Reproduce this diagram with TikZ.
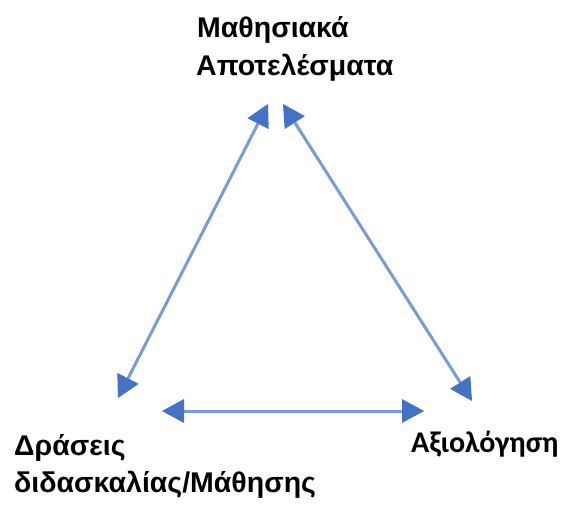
\documentclass[tikz,border=0pt]{standalone}
\usepackage{fontspec}
\setmainfont{Liberation Sans}
\newfontfamily\calfont{Carlito}
\usetikzlibrary{arrows.meta}
\definecolor{lineblue}{RGB}{120,156,214}
\definecolor{tipblue}{RGB}{68,114,196}
\begin{document}
\begin{tikzpicture}[x=1pt, y=-1pt,
    label/.style={inner sep=0pt, anchor=base west, font=\bfseries\fontsize{28.5}{32}\selectfont},
    link/.style={draw=lineblue, line width=3pt, {Triangle[length=22pt, width=24pt, fill=tipblue, line width=0pt]}-{Triangle[length=22pt, width=24pt, fill=tipblue, line width=0pt]}}
    ]
    \useasboundingbox (0,0) rectangle (571,509);
    \node [label] (outcomes1) at (197,37) {Μαθησιακά};
    \node [label] (outcomes2) at (196,75) {Αποτελέσματα};
    \node [label] (actions1) at (14,455) {Δράσεις};
    \node [label] (actions2) at (14,492) {διδασκαλίας/Μάθησης};
    \node [label, font=\calfont\bfseries\fontsize{30}{34}\selectfont] (assess) at (411,452) {Αξιολόγηση};

    \coordinate (topl) at (268,104);
    \coordinate (topr) at (283,104);
    \coordinate (left) at (118,398);
    \coordinate (right) at (472,401);
    \coordinate (midl) at (162,411);
    \coordinate (midr) at (424,411);

    \draw [link] (topl) -- (left);
    \draw [link] (topr) -- (right);
    \draw [link] (midl) -- (midr);
\end{tikzpicture}
\end{document}
